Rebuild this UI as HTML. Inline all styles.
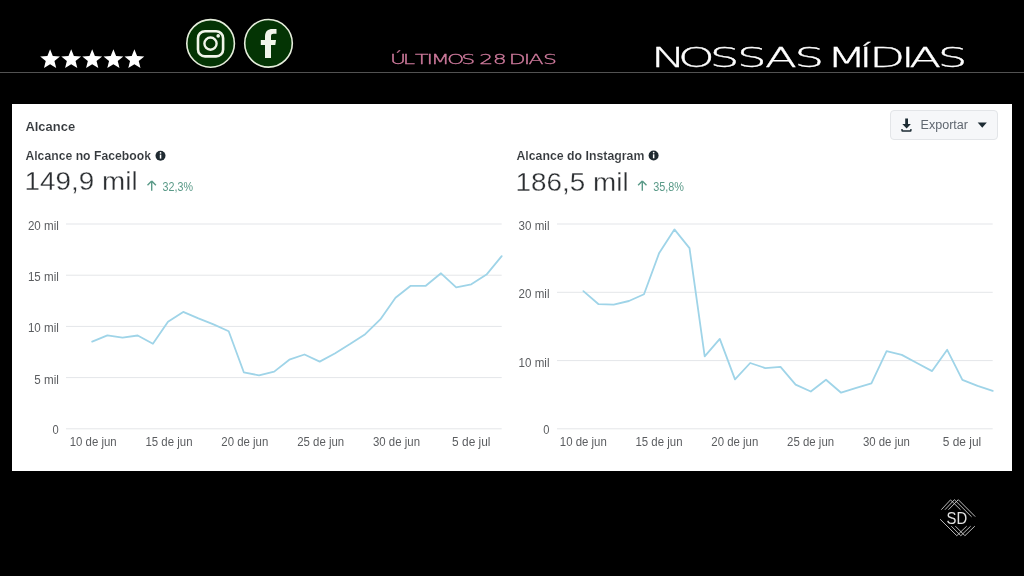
<!DOCTYPE html>
<html lang="pt">
<head>
<meta charset="utf-8">
<title>Nossas Mídias</title>
<style>
html,body{margin:0;padding:0;background:#000;}
body{width:1024px;height:576px;overflow:hidden;position:relative;font-family:"Liberation Sans",Arial,sans-serif;}
svg{position:absolute;left:0;top:0;display:block;}
.t{font-family:"Liberation Sans",Arial,sans-serif;}
</style>
</head>
<body>
<svg width="1024" height="576" viewBox="0 0 1024 576">
  <!-- header -->
  <rect x="0" y="72" width="1024" height="1" fill="#525252"/>
  <g fill="#ffffff">
    <polygon points="50.10,49.20 52.79,55.90 59.99,56.39 54.45,61.01 56.21,68.01 50.10,64.18 43.99,68.01 45.75,61.01 40.21,56.39 47.41,55.90"/>
    <polygon points="71.20,49.20 73.89,55.90 81.09,56.39 75.55,61.01 77.31,68.01 71.20,64.18 65.09,68.01 66.85,61.01 61.31,56.39 68.51,55.90"/>
    <polygon points="92.20,49.20 94.89,55.90 102.09,56.39 96.55,61.01 98.31,68.01 92.20,64.18 86.09,68.01 87.85,61.01 82.31,56.39 89.51,55.90"/>
    <polygon points="113.40,49.20 116.09,55.90 123.29,56.39 117.75,61.01 119.51,68.01 113.40,64.18 107.29,68.01 109.05,61.01 103.51,56.39 110.71,55.90"/>
    <polygon points="134.40,49.20 137.09,55.90 144.29,56.39 138.75,61.01 140.51,68.01 134.40,64.18 128.29,68.01 130.05,61.01 124.51,56.39 131.71,55.90"/>
  </g>
  <!-- instagram -->
  <circle cx="210.6" cy="43.4" r="23.8" fill="#043404" stroke="#e6eedc" stroke-width="1.6"/>
  <rect x="198" y="31.2" width="25.1" height="25.2" rx="7" ry="7" fill="none" stroke="#f1f5ea" stroke-width="2.6"/>
  <circle cx="210.5" cy="43.6" r="6.1" fill="none" stroke="#f1f5ea" stroke-width="2.4"/>
  <circle cx="218.2" cy="35.9" r="1.8" fill="#f1f5ea"/>
  <!-- facebook -->
  <circle cx="268.5" cy="43.3" r="23.8" fill="#043404" stroke="#e6eedc" stroke-width="1.6"/>
  <path d="M265 58 V45 H260.8 V40 H265 V36.5 C265 31.5 268 29.1 272.5 29.1 H276.5 V33.8 H273.5 C271.8 33.8 271 34.6 271 36.3 V40 H276 L275.3 45 H271 V58 Z" fill="#f1f5ea"/>
  <text transform="scale(1.62,1)" x="240.68 248.64 256.19 263.24 265.84 275.86 284.78 290 295.80 304.23 310 314.03 323.33 326.21 335.15" y="63.8" font-family="DejaVu Sans, Liberation Sans, sans-serif" font-weight="200" font-size="13.6" fill="#d27c9f" stroke="#d27c9f" stroke-width="0.3">ÚLTIMOS 28 DIAS</text>
  <text transform="scale(1.8,1)" x="361.61 376.74 394.33 409.50 425.05 441.41 455 459.24 477.18 482.86 500.54 505.16 520.91" y="67.3" font-family="DejaVu Sans, Liberation Sans, sans-serif" font-weight="200" font-size="25.9" fill="#ffffff" stroke="#ffffff" stroke-width="0.3">NOSSAS MÍDIAS</text>

  <!-- panel -->
  <rect x="12" y="104" width="1000" height="367" fill="#ffffff"/>
  <text class="t" x="25.4" y="130.6" font-size="13.3" font-weight="bold" fill="#34383c" stroke="#ffffff" stroke-width="0.12" textLength="49.8" lengthAdjust="spacingAndGlyphs">Alcance</text>

  <!-- export button -->
  <rect x="890.5" y="110.5" width="107" height="29" rx="3.5" fill="#f6f7f9" stroke="#e3e5e8"/>
  <path d="M905.2 118.6 H908 V123.9 H910.9 L906.6 128.6 L902.3 123.9 H905.2 Z M901.3 128.9 H902.7 V130.3 H910.2 V128.9 H911.6 V130.6 Q911.6 131.8 910.4 131.8 H902.5 Q901.3 131.8 901.3 130.6 Z" fill="#1c2b33"/>
  <text class="t" x="920.5" y="129.4" font-size="12.5" fill="#606770" textLength="47.5" lengthAdjust="spacingAndGlyphs">Exportar</text>
  <path d="M977.7 122.5 h9.1 l-4.55 5.3 z" fill="#1c2b33"/>

  <!-- FB heading -->
  <text class="t" x="25.4" y="160.3" font-size="13" font-weight="bold" fill="#34383c" stroke="#ffffff" stroke-width="0.12" textLength="125.6" lengthAdjust="spacingAndGlyphs">Alcance no Facebook</text>
  <circle cx="160.5" cy="155.8" r="5" fill="#1f2a31"/>
  <rect x="159.8" y="154.6" width="1.5" height="4" fill="#fff"/>
  <circle cx="160.55" cy="152.9" r="0.85" fill="#fff"/>
  <text class="t" x="24.6" y="190.3" font-size="25.8" fill="#2b2e31" stroke="#ffffff" stroke-width="0.3" textLength="113" lengthAdjust="spacingAndGlyphs">149,9 mil</text>
  <path d="M151.7 181 l-4.2 4.2 M151.7 181 l4.2 4.2 M151.7 181.5 v9.3" stroke="#5a9a88" stroke-width="1.4" fill="none"/>
  <text class="t" x="162.6" y="190.8" font-size="12.3" fill="#5a9a88" textLength="30.4" lengthAdjust="spacingAndGlyphs">32,3%</text>

  <!-- IG heading -->
  <text class="t" x="516.4" y="159.5" font-size="13" font-weight="bold" fill="#34383c" stroke="#ffffff" stroke-width="0.12" textLength="128" lengthAdjust="spacingAndGlyphs">Alcance do Instagram</text>
  <circle cx="653.6" cy="155.5" r="5" fill="#1f2a31"/>
  <rect x="652.9" y="154.3" width="1.5" height="4" fill="#fff"/>
  <circle cx="653.65" cy="152.6" r="0.85" fill="#fff"/>
  <text class="t" x="515.6" y="190.5" font-size="25.8" fill="#2b2e31" stroke="#ffffff" stroke-width="0.3" textLength="113" lengthAdjust="spacingAndGlyphs">186,5 mil</text>
  <path d="M642.3 181 l-4.2 4.2 M642.3 181 l4.2 4.2 M642.3 181.5 v9.3" stroke="#5a9a88" stroke-width="1.4" fill="none"/>
  <text class="t" x="653.2" y="190.8" font-size="12.3" fill="#5a9a88" textLength="30.8" lengthAdjust="spacingAndGlyphs">35,8%</text>

  <!-- FB chart grid -->
  <g fill="#e4e6e9">
    <rect x="66" y="223.5" width="435.7" height="1"/>
    <rect x="66" y="274.7" width="435.7" height="1"/>
    <rect x="66" y="325.9" width="435.7" height="1"/>
    <rect x="66" y="377.1" width="435.7" height="1"/>
    <rect x="66" y="428.3" width="435.7" height="1"/>
  </g>
  <g class="t" font-size="12" fill="#5b5d60" text-anchor="end">
    <text x="58.8" y="229.9" textLength="30.9" lengthAdjust="spacingAndGlyphs">20 mil</text>
    <text x="58.8" y="281.1" textLength="30.9" lengthAdjust="spacingAndGlyphs">15 mil</text>
    <text x="58.8" y="332.3" textLength="30.9" lengthAdjust="spacingAndGlyphs">10 mil</text>
    <text x="58.8" y="383.5" textLength="24.5" lengthAdjust="spacingAndGlyphs">5 mil</text>
    <text x="58.8" y="433.8" textLength="6.2" lengthAdjust="spacingAndGlyphs">0</text>
  </g>
  <g class="t" font-size="12" fill="#5b5d60" text-anchor="middle">
    <text x="93.2" y="445.7" textLength="47" lengthAdjust="spacingAndGlyphs">10 de jun</text>
    <text x="169" y="445.7" textLength="47" lengthAdjust="spacingAndGlyphs">15 de jun</text>
    <text x="244.8" y="445.7" textLength="47" lengthAdjust="spacingAndGlyphs">20 de jun</text>
    <text x="320.7" y="445.7" textLength="47" lengthAdjust="spacingAndGlyphs">25 de jun</text>
    <text x="396.5" y="445.7" textLength="47" lengthAdjust="spacingAndGlyphs">30 de jun</text>
    <text x="471.3" y="445.7" textLength="38.4" lengthAdjust="spacingAndGlyphs">5 de jul</text>
  </g>
  <polyline fill="none" stroke="#9fd4e8" stroke-width="1.8" stroke-linejoin="round" stroke-linecap="round" points="92.2,341.6 107.4,335.3 122.5,337.7 137.7,335.5 152.9,343.7 168.0,321.8 183.2,311.9 198.4,318.4 213.5,324.4 228.7,331.3 243.8,372.3 259.0,375.3 274.2,371.6 289.3,359.7 304.5,354.5 319.7,361.6 334.8,353.5 350.0,344.1 365.2,334.2 380.3,319.4 395.5,297.8 410.7,285.8 425.8,285.8 441.0,273.3 456.2,287.4 471.3,284.3 486.5,274.6 501.7,256.1"/>

  <!-- IG chart grid -->
  <g fill="#e4e6e9">
    <rect x="557" y="223.5" width="435.7" height="1"/>
    <rect x="557" y="291.8" width="435.7" height="1"/>
    <rect x="557" y="360.1" width="435.7" height="1"/>
    <rect x="557" y="428.3" width="435.7" height="1"/>
  </g>
  <g class="t" font-size="12" fill="#5b5d60" text-anchor="end">
    <text x="549.5" y="229.9" textLength="30.9" lengthAdjust="spacingAndGlyphs">30 mil</text>
    <text x="549.5" y="298.2" textLength="30.9" lengthAdjust="spacingAndGlyphs">20 mil</text>
    <text x="549.5" y="366.5" textLength="30.9" lengthAdjust="spacingAndGlyphs">10 mil</text>
    <text x="549.5" y="433.8" textLength="6.2" lengthAdjust="spacingAndGlyphs">0</text>
  </g>
  <g class="t" font-size="12" fill="#5b5d60" text-anchor="middle">
    <text x="583.3" y="445.7" textLength="47" lengthAdjust="spacingAndGlyphs">10 de jun</text>
    <text x="659" y="445.7" textLength="47" lengthAdjust="spacingAndGlyphs">15 de jun</text>
    <text x="734.8" y="445.7" textLength="47" lengthAdjust="spacingAndGlyphs">20 de jun</text>
    <text x="810.6" y="445.7" textLength="47" lengthAdjust="spacingAndGlyphs">25 de jun</text>
    <text x="886.4" y="445.7" textLength="47" lengthAdjust="spacingAndGlyphs">30 de jun</text>
    <text x="962" y="445.7" textLength="38.4" lengthAdjust="spacingAndGlyphs">5 de jul</text>
  </g>
  <polyline fill="none" stroke="#9fd4e8" stroke-width="1.8" stroke-linejoin="round" stroke-linecap="round" points="583.4,291.1 598.6,304.2 613.7,304.6 628.9,301.0 644.0,294.3 659.2,252.9 674.4,229.4 689.5,248.1 704.7,356.3 719.8,338.9 735.0,379.4 750.2,363.0 765.3,368.1 780.5,366.8 795.6,384.6 810.8,391.5 826.0,379.8 841.1,392.7 856.3,387.9 871.4,383.3 886.6,351.1 901.8,354.9 916.9,363.0 932.1,371.1 947.2,349.8 962.4,379.8 977.6,385.9 992.7,390.9"/>

  <!-- SD logo -->
  <g fill="none" stroke="#cfcfcf" stroke-width="0.9" stroke-linejoin="miter">
    <polyline points="941.3,509.7 950.5,499.9 960.5,509.7"/>
    <polyline points="945,509.7 954.4,499.7 971.6,516.8"/>
    <polyline points="948.5,509.7 958.3,499.7 975.2,516.6"/>
    <polyline points="940.1,519.2 956.8,535.7 966.7,526.2"/>
    <polyline points="951.3,526.2 960.8,535.7 970.7,526.2"/>
    <polyline points="955.4,526.2 964.9,535.7 974.8,526.2"/>
  </g>
  <text class="t" x="946.6" y="523.9" font-size="17" fill="#e2e2e2" textLength="20.6" lengthAdjust="spacingAndGlyphs">SD</text>
</svg>
</body>
</html>
